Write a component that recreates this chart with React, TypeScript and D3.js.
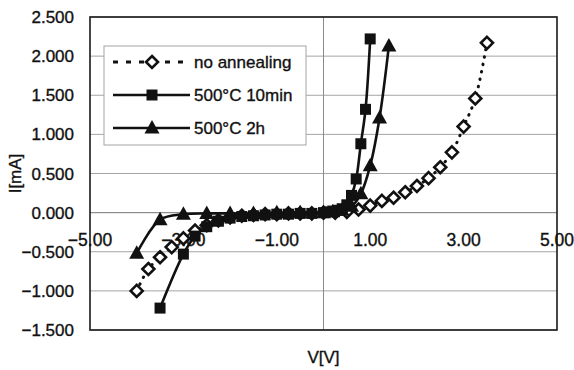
import React, { useEffect, useRef } from "react";
import * as d3 from "d3";

// I–V characteristics of the diode for three annealing conditions
const noAnnealV = [-4.0, -3.75, -3.5, -3.25, -3.0, -2.75, -2.5, -2.25, -2.0, -1.75, -1.5, -1.25, -1.0, -0.75, -0.5, -0.25, 0.0, 0.25, 0.5, 0.75, 1.0, 1.25, 1.5, 1.75, 2.0, 2.25, 2.5, 2.75, 3.0, 3.25, 3.5];
const noAnnealI = [-1.0, -0.72, -0.57, -0.44, -0.33, -0.23, -0.16, -0.1, -0.06, -0.04, -0.03, -0.02, -0.02, -0.01, -0.01, -0.01, 0.0, 0.0, 0.01, 0.04, 0.09, 0.15, 0.19, 0.26, 0.34, 0.44, 0.58, 0.77, 1.1, 1.46, 2.17];

const anneal10minV = [-3.5, -3.0, -2.75, -2.5, -2.25, -2.0, -1.75, -1.5, -1.25, -1.0, -0.75, -0.5, -0.25, 0.0, 0.1, 0.2, 0.3, 0.4, 0.5, 0.6, 0.7, 0.8, 0.9, 1.0];
const anneal10minI = [-1.22, -0.53, -0.3, -0.18, -0.11, -0.07, -0.05, -0.04, -0.03, -0.02, -0.02, -0.01, -0.01, 0.0, 0.01, 0.02, 0.03, 0.05, 0.1, 0.22, 0.43, 0.88, 1.32, 2.22];

const anneal2hV = [-4.0, -3.5, -3.0, -2.5, -2.0, -1.5, -1.0, -0.5, 0.0, 0.2, 0.4, 0.6, 0.8, 1.0, 1.2, 1.4];
const anneal2hI = [-0.52, -0.09, -0.02, -0.01, -0.01, -0.01, 0.0, 0.0, 0.0, 0.01, 0.03, 0.08, 0.24, 0.6, 1.21, 2.13];

const seriesNames = ["no annealing", "500°C 10min", "500°C 2h"];
const xTicks = [-5, -3, -1, 1, 3, 5];
const yTicks = [-1.5, -1.0, -0.5, 0.0, 0.5, 1.0, 1.5, 2.0, 2.5];

const W = 574;
const H = 370;
const FONT = "'Liberation Sans', Arial, sans-serif";

export default function App() {
  const ref = useRef<SVGSVGElement | null>(null);

  useEffect(() => {
    const svg = d3.select(ref.current);
    svg.selectAll("*").remove();

    const plot = { left: 90, right: 557, top: 17, bottom: 330 };
    const x = d3.scaleLinear().domain([-5, 5]).range([plot.left, plot.right]);
    const y = d3.scaleLinear().domain([-1.5, 2.5]).range([plot.bottom, plot.top]);

    svg.append("rect").attr("width", W).attr("height", H).attr("fill", "#fff");

    // horizontal gridlines
    svg.append("g")
      .selectAll("line")
      .data(yTicks)
      .join("line")
      .attr("x1", plot.left)
      .attr("x2", plot.right)
      .attr("y1", (d) => y(d))
      .attr("y2", (d) => y(d))
      .attr("stroke", "#a4a4a4")
      .attr("stroke-width", 1);

    // vertical axis line crossing at V = 0
    svg.append("line")
      .attr("x1", x(0)).attr("x2", x(0))
      .attr("y1", plot.top).attr("y2", plot.bottom)
      .attr("stroke", "#8a8a8a").attr("stroke-width", 1);

    // horizontal axis line at I = 0
    svg.append("line")
      .attr("x1", plot.left).attr("x2", plot.right)
      .attr("y1", y(0)).attr("y2", y(0))
      .attr("stroke", "#8a8a8a").attr("stroke-width", 1);

    // plot border
    svg.append("rect")
      .attr("x", plot.left).attr("y", plot.top)
      .attr("width", plot.right - plot.left)
      .attr("height", plot.bottom - plot.top)
      .attr("fill", "none")
      .attr("stroke", "#1a1a1a")
      .attr("stroke-width", 1.6);

    const fmtY = (d: number) => d3.format(".3f")(d).replace("-", "\u2212");
    const fmtX = (d: number) => d3.format(".2f")(d).replace("-", "\u2212");

    const styleText = (sel: any, size: number) =>
      sel.attr("font-family", FONT)
        .attr("font-size", size)
        .attr("fill", "#111")
        .attr("stroke", "#111")
        .attr("stroke-width", 0.35);

    // y tick labels
    styleText(
      svg.append("g")
        .selectAll("text")
        .data(yTicks)
        .join("text")
        .attr("x", 74)
        .attr("y", (d) => y(d) + 6)
        .attr("text-anchor", "end"),
      17
    ).text(fmtY);

    // x tick labels, sitting next to the I = 0 axis
    styleText(
      svg.append("g")
        .selectAll("text")
        .data(xTicks)
        .join("text")
        .attr("x", (d) => x(d))
        .attr("y", y(0) + 33)
        .attr("text-anchor", "middle"),
      17.5
    ).text(fmtX);

    // axis titles
    styleText(
      svg.append("text")
        .attr("transform", `translate(21, ${(plot.top + plot.bottom) / 2}) rotate(-90)`)
        .attr("text-anchor", "middle"),
      17
    ).text("I[mA]");
    styleText(
      svg.append("text")
        .attr("x", x(0))
        .attr("y", 363)
        .attr("text-anchor", "middle"),
      17
    ).text("V[V]");

    const line = d3.line<[number, number]>()
      .x((d) => x(d[0]))
      .y((d) => y(d[1]))
      .curve(d3.curveCatmullRom.alpha(0.5));

    const diamondPath = "M0,-6L6,0L0,6L-6,0Z";
    const squarePath = "M-5.5,-5.5H5.5V5.5H-5.5Z";
    const trianglePath = "M0,-8L7.5,5.5H-7.5Z";

    const series = [
      { v: noAnnealV, i: noAnnealI, dash: "0.5,7", marker: diamondPath, fill: "#fff", mstroke: 2.6 },
      { v: anneal10minV, i: anneal10minI, dash: null, marker: squarePath, fill: "#111", mstroke: 0 },
      { v: anneal2hV, i: anneal2hI, dash: null, marker: trianglePath, fill: "#111", mstroke: 0 },
    ];

    series.forEach((s) => {
      const pts: [number, number][] = s.v.map((v, k) => [v, s.i[k]]);
      const path = svg.append("path")
        .attr("d", line(pts))
        .attr("fill", "none")
        .attr("stroke", "#111")
        .attr("stroke-width", s.dash ? 3 : 2.6);
      if (s.dash) path.attr("stroke-dasharray", s.dash).attr("stroke-linecap", "round");

      svg.append("g")
        .selectAll("path")
        .data(pts)
        .join("path")
        .attr("transform", (d) => `translate(${x(d[0])},${y(d[1])})`)
        .attr("d", s.marker)
        .attr("fill", s.fill)
        .attr("stroke", "#111")
        .attr("stroke-width", s.mstroke);
    });

    // legend
    const lg = svg.append("g");
    lg.append("rect")
      .attr("x", 104).attr("y", 46)
      .attr("width", 202).attr("height", 99)
      .attr("fill", "#fff")
      .attr("stroke", "#a4a4a4")
      .attr("stroke-width", 1);
    const rowY = [62, 95, 128];
    series.forEach((s, k) => {
      const ly = rowY[k];
      const l = lg.append("line")
        .attr("x1", 113).attr("x2", 190)
        .attr("y1", ly).attr("y2", ly)
        .attr("stroke", "#111")
        .attr("stroke-width", s.dash ? 3 : 2.6);
      if (s.dash) l.attr("stroke-dasharray", "5,8").attr("stroke-linecap", "butt");
      lg.append("path")
        .attr("transform", `translate(152,${ly})`)
        .attr("d", s.marker)
        .attr("fill", s.fill)
        .attr("stroke", "#111")
        .attr("stroke-width", s.mstroke);
      styleText(
        lg.append("text")
          .attr("x", 194)
          .attr("y", ly + 6),
        17
      ).text(seriesNames[k]);
    });
  }, []);

  return (
    <svg
      ref={ref}
      width={W}
      height={H}
      style={{ position: "absolute", left: 0, top: 0, display: "block" }}
    />
  );
}
